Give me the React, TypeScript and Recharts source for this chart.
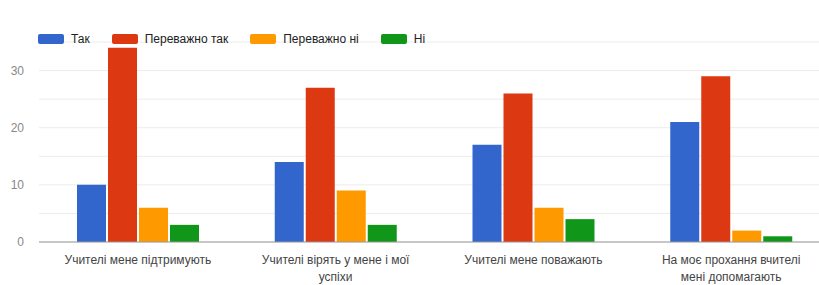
import React from "react";
import { BarChart, Bar, XAxis, YAxis, CartesianGrid, ReferenceLine } from "recharts";

const categories = [
  "Учителі мене підтримують",
  "Учителі вірять у мене і мої успіхи",
  "Учителі мене поважають",
  "На моє прохання вчителі мені допомагають",
];
const categoryLines = [
  ["Учителі мене підтримують"],
  ["Учителі вірять у мене і мої", "успіхи"],
  ["Учителі мене поважають"],
  ["На моє прохання вчителі", "мені допомагають"],
];
const tak = [10, 14, 17, 21];
const perevazhnoTak = [34, 27, 26, 29];
const perevazhnoNi = [6, 9, 6, 2];
const ni = [3, 3, 4, 1];
const yTicks = [0, 5, 10, 15, 20, 25, 30, 35];

const series = [
  { key: "tak", name: "Так", color: "#3366cc" },
  { key: "pTak", name: "Переважно так", color: "#dc3912" },
  { key: "pNi", name: "Переважно ні", color: "#ff9900" },
  { key: "ni", name: "Ні", color: "#109618" },
];

const data = categories.map((c, i) => ({
  name: c,
  idx: i,
  tak: tak[i],
  pTak: perevazhnoTak[i],
  pNi: perevazhnoNi[i],
  ni: ni[i],
}));

const FONT = "'Liberation Sans', Arial, sans-serif";

function CategoryTick(props: any) {
  const { x, y, index } = props;
  const lines = categoryLines[index] || [];
  return (
    <text x={x} y={y + 14} textAnchor="middle" fill="#444" fontSize={12} fontFamily={FONT}>
      {lines.map((l, i) => (
        <tspan key={i} x={x} dy={i === 0 ? 0 : 17}>
          {l}
        </tspan>
      ))}
    </text>
  );
}

export default function App() {
  return (
    <div
      style={{
        position: "absolute",
        left: 0,
        top: 0,
        width: 819,
        height: 285,
        overflow: "hidden",
        background: "#fff",
        fontFamily: FONT,
      }}
    >
      {/* legend, top-left like the original */}
      <div
        style={{
          position: "absolute",
          left: 38,
          top: 32,
          display: "flex",
          alignItems: "center",
          fontSize: 12,
          color: "#222",
          zIndex: 2,
        }}
      >
        {series.map((s) => (
          <div key={s.key} style={{ display: "flex", alignItems: "center", marginRight: 22 }}>
            <span style={{ width: 26, height: 10, background: s.color, borderRadius: 2, marginRight: 7 }} />
            <span>{s.name}</span>
          </div>
        ))}
      </div>
      <BarChart
        width={841}
        height={285}
        data={data}
        margin={{ top: 42, right: 11, left: 0, bottom: 0 }}
        barSize={29}
        barGap={2}
      >
        <CartesianGrid vertical={false} stroke="#ececec" />
        <XAxis
          dataKey="name"
          axisLine={false}
          tickLine={false}
          height={43}
          interval={0}
          tick={<CategoryTick />}
        />
        <YAxis
          domain={[0, 35]}
          ticks={yTicks}
          width={39}
          axisLine={false}
          tickLine={false}
          tickMargin={9}
          tick={{ fontSize: 12, fill: "#888", fontFamily: FONT }}
          tickFormatter={(v: number) => (v % 10 === 0 && v < 35 ? String(v) : "")}
        />
        <ReferenceLine y={0} stroke="#999" strokeWidth={1} />
        {series.map((s) => (
          <Bar key={s.key} dataKey={s.key} name={s.name} fill={s.color} isAnimationActive={false} />
        ))}
      </BarChart>
    </div>
  );
}
